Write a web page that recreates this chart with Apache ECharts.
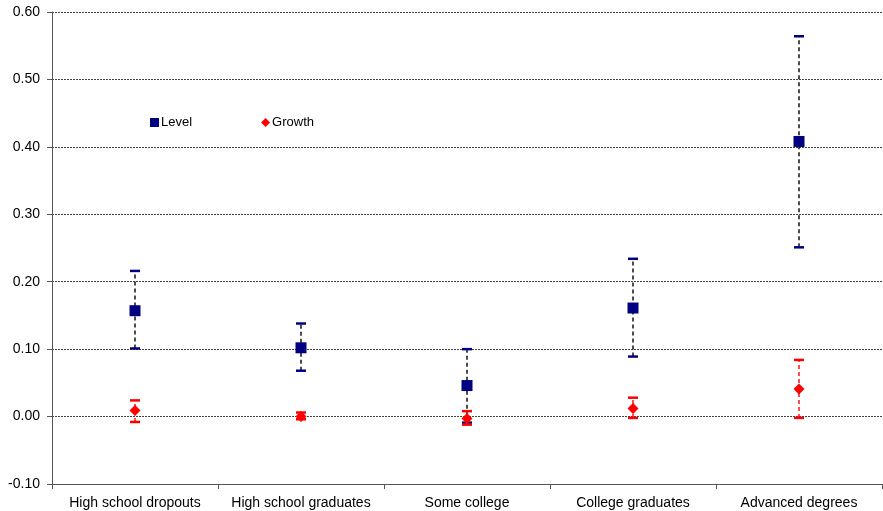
<!DOCTYPE html>
<html>
<head>
<meta charset="utf-8">
<script src="https://cdn.jsdelivr.net/npm/echarts@6/dist/echarts.min.js"></script>
<style>
  html, body { margin: 0; padding: 0; background: #fff; }
  #chart { width: 883px; height: 511px; }
</style>
</head>
<body>
<div id="chart"></div>
<script>
// Education groups along the horizontal axis
var categories = ['High school dropouts', 'High school graduates', 'Some college', 'College graduates', 'Advanced degrees'];

// Level estimates with lower / upper bounds
var levelMid  = [0.157, 0.102, 0.046, 0.161, 0.408];
var levelLow  = [0.101, 0.068, -0.009, 0.089, 0.251];
var levelHigh = [0.216, 0.138, 0.100, 0.234, 0.564];

// Growth estimates with lower / upper bounds
var growthMid  = [0.009, 0.000, -0.003, 0.012, 0.041];
var growthLow  = [-0.008, -0.004, -0.012, -0.002, -0.002];
var growthHigh = [0.024, 0.006, 0.008, 0.028, 0.084];

// Value axis settings
var yMin = -0.1, yMax = 0.6, yStep = 0.1;

var NAVY = '#000080';
var RED = '#ff0000';
var FONT = 'Liberation Sans, Arial, sans-serif';

function rangeData(low, high) {
  return categories.map(function (c, i) { return [i, low[i], high[i]]; });
}

// Dashed whisker between the bounds, with a short cap at each end
function whiskers(capColor, lineColor) {
  return function (params, api) {
    var i = api.value(0);
    var lo = api.coord([i, api.value(1)]);
    var hi = api.coord([i, api.value(2)]);
    var half = 5;
    return {
      type: 'group',
      children: [
        { type: 'line', shape: { x1: lo[0], y1: lo[1], x2: hi[0], y2: hi[1] },
          style: { stroke: lineColor, lineWidth: 1.4, lineDash: [4, 3] } },
        { type: 'line', shape: { x1: hi[0] - half, y1: hi[1], x2: hi[0] + half, y2: hi[1] },
          style: { stroke: capColor, lineWidth: 2.5 } },
        { type: 'line', shape: { x1: lo[0] - half, y1: lo[1], x2: lo[0] + half, y2: lo[1] },
          style: { stroke: capColor, lineWidth: 2.5 } }
      ]
    };
  };
}

var chart = echarts.init(document.getElementById('chart'));
chart.setOption({
  animation: false,
  backgroundColor: '#fff',
  grid: { left: 52, right: 1, top: 12, bottom: 27, containLabel: false },
  legend: {
    data: [
      { name: 'Level', icon: 'rect' },
      { name: 'Growth', icon: 'diamond' }
    ],
    left: 145, top: 111,
    itemWidth: 9, itemHeight: 9, itemGap: 69,
    textStyle: { fontFamily: FONT, fontSize: 13, color: '#000', padding: [0, 0, 0, -3] }
  },
  xAxis: {
    type: 'category',
    data: categories,
    boundaryGap: true,
    axisLine: { onZero: false, lineStyle: { color: '#555', width: 1 } },
    axisTick: { show: true, length: 5, lineStyle: { color: '#555' } },
    axisLabel: { fontFamily: FONT, fontSize: 14, color: '#000', margin: 12, interval: 0 },
    splitLine: { show: false }
  },
  yAxis: {
    type: 'value',
    min: yMin, max: yMax, interval: yStep,
    axisLine: { show: true, lineStyle: { color: '#555', width: 1 } },
    axisTick: { show: true, length: 5, lineStyle: { color: '#555' } },
    axisLabel: {
      fontFamily: FONT, fontSize: 14, color: '#000', margin: 12,
      formatter: function (v) { return v.toFixed(2); }
    },
    splitLine: { show: true, lineStyle: { color: '#444', width: 1, type: [2, 1] } }
  },
  series: [
    {
      name: 'Level bounds', type: 'custom',
      renderItem: whiskers(NAVY, '#000'),
      data: rangeData(levelLow, levelHigh),
      encode: { x: 0, y: [1, 2] }, z: 2, silent: true
    },
    {
      name: 'Level', type: 'scatter',
      data: levelMid, symbol: 'rect', symbolSize: 11,
      itemStyle: { color: NAVY, opacity: 1 }, z: 3
    },
    {
      name: 'Growth bounds', type: 'custom',
      renderItem: whiskers(RED, RED),
      data: rangeData(growthLow, growthHigh),
      encode: { x: 0, y: [1, 2] }, z: 4, silent: true
    },
    {
      name: 'Growth', type: 'scatter',
      data: growthMid, symbol: 'diamond', symbolSize: 11,
      itemStyle: { color: RED, opacity: 1 }, z: 5
    }
  ]
});
</script>
</body>
</html>
